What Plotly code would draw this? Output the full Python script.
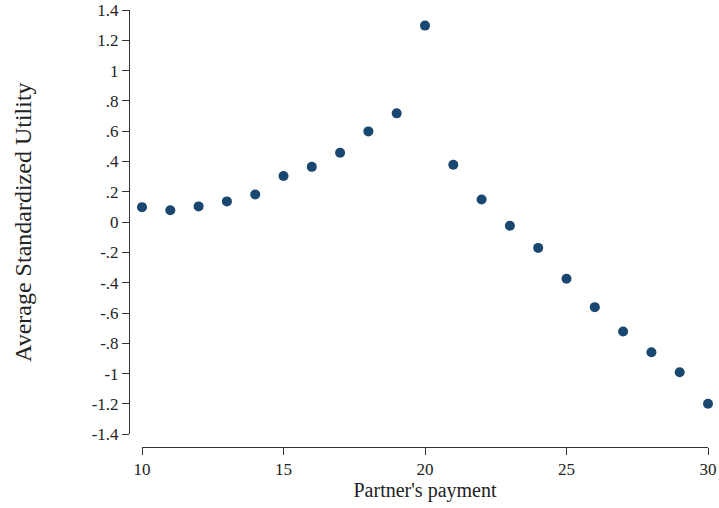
import plotly.graph_objects as go

payment = [10, 11, 12, 13, 14, 15, 16, 17, 18, 19, 20,
           21, 22, 23, 24, 25, 26, 27, 28, 29, 30]
utility = [0.099, 0.079, 0.104, 0.137, 0.183, 0.304, 0.365, 0.458, 0.599, 0.718, 1.297,
           0.379, 0.150, -0.024, -0.170, -0.374, -0.561, -0.722, -0.859, -0.991, -1.198]

y_tickvals = [1.4, 1.2, 1.0, 0.8, 0.6, 0.4, 0.2, 0.0, -0.2, -0.4, -0.6, -0.8, -1.0, -1.2, -1.4]
y_ticktext = ["1.4", "1.2", "1", ".8", ".6", ".4", ".2", "0", "-.2", "-.4", "-.6", "-.8", "-1", "-1.2", "-1.4"]
x_tickvals = [10, 15, 20, 25, 30]

FONT = "Liberation Serif, Times New Roman, serif"
AXC = "#333333"
TXT = "#222222"

fig = go.Figure()
fig.add_trace(go.Scatter(
    x=payment, y=utility, mode="markers",
    marker=dict(color="#1a476f", size=10, line=dict(width=0)),
    cliponaxis=False, showlegend=False,
))

W, H = 719, 508
ml, mr, mt, mb = 129, 11, 10, 61.3
pw = W - ml - mr
ph = H - mt - mb

fig.update_layout(
    width=W, height=H,
    margin=dict(l=ml, r=mr, t=mt, b=mb),
    paper_bgcolor="white", plot_bgcolor="white",
    font=dict(family=FONT, color=TXT, size=17),
    xaxis=dict(
        range=[10, 30], domain=[(142 - ml) / pw, 1],
        anchor="free", position=0, automargin=False,
        tickvals=x_tickvals, ticks="outside", ticklen=7, tickwidth=1, tickcolor=AXC,
        showline=True, linecolor=AXC, linewidth=1,
        showgrid=False, zeroline=False,
        tickfont=dict(family=FONT, size=17, color=TXT),
        title=dict(text="Partner's payment", font=dict(family=FONT, size=20, color=TXT), standoff=4),
    ),
    yaxis=dict(
        range=[-1.4, 1.4], domain=[(446.7 - 434) / ph, 1],
        anchor="free", position=0, automargin=False,
        tickvals=y_tickvals, ticktext=y_ticktext,
        ticks="outside", ticklen=7, tickwidth=1, tickcolor=AXC,
        showline=True, linecolor=AXC, linewidth=1,
        showgrid=False, zeroline=False,
        tickfont=dict(family=FONT, size=17, color=TXT),
        title=dict(text="Average Standardized Utility", font=dict(family=FONT, size=24, color=TXT), standoff=52),
    ),
)

fig.write_html("out.html")
